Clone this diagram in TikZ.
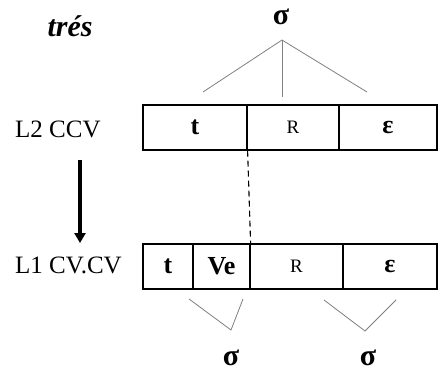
\documentclass[tikz,border=0pt]{standalone}
\usepackage{fontspec}
\setmainfont{Liberation Serif}
\usetikzlibrary{arrows.meta}
\begin{document}
\begin{tikzpicture}[x=1pt,y=-1pt,
  cell/.style={draw, line width=1.2pt, minimum height=45pt, inner sep=0pt, anchor=center},
  seg/.style={font=\fontsize{26}{28}\selectfont\bfseries},
  small/.style={font=\fontsize{19}{21}\selectfont},
  lab/.style={font=\fontsize{25}{28}\selectfont, anchor=west, inner sep=0pt},
  sig/.style={font=\fontsize{30}{32}\selectfont\bfseries, inner sep=0pt},
  branch/.style={draw=gray, line width=0.8pt}]
\useasboundingbox (0,0) rectangle (438,372);
\fill[white] (0,0) rectangle (438,372);
% top row
\node[cell, minimum width=104pt, seg] (t2) at (195,127.5) {t};
\node[cell, minimum width=92pt, small] (r2) at (293,127.5) {\raisebox{-2pt}{R}};
\node[cell, minimum width=98pt, seg] (e2) at (388,127.5) {ε};
% bottom row
\node[cell, minimum width=50pt, seg] (t1) at (168,266.5) {t};
\node[cell, minimum width=57pt, seg] (v1) at (221.5,266.5) {Ve};
\node[cell, minimum width=93pt, small] (r1) at (296.5,266.5) {\raisebox{-2pt}{R}};
\node[cell, minimum width=94pt, seg] (e1) at (390,266.5) {ε};
% labels
\node[font=\fontsize{30}{32}\selectfont\bfseries\itshape, anchor=center] (tres) at (70,26) {trés};
\node[lab] (l2) at (15,129) {L2 CCV};
\node[lab] (l1) at (15,265) {L1 CV.CV};
% arrow
\coordinate (a1) at (80,160);
\coordinate (a2) at (80,243);
\draw[line width=4pt, -{Triangle[length=10pt,width=11pt]}] (a1) -- (a2);
% dashed
\draw[dash pattern=on 6pt off 4pt, line width=1.1pt] (t2.south east) -- (v1.north east);
% top sigma
\node[sig] (s0) at (281,17) {σ};
\coordinate (p0) at (282,40);
\coordinate (q1) at (203,92);
\coordinate (q2) at (282,97);
\coordinate (q3) at (367,92);
\draw[branch] (q1) -- (p0) -- (q3);
\draw[branch] (p0) -- (q2);
% bottom sigmas
\coordinate (b1a) at (189,299);
\coordinate (b1m) at (231,330);
\coordinate (b1b) at (243,299);
\coordinate (b2a) at (324,300);
\coordinate (b2m) at (365,331);
\coordinate (b2b) at (396,300);
\draw[branch] (b1a) -- (b1m) -- (b1b);
\draw[branch] (b2a) -- (b2m) -- (b2b);
\node[sig] (s1) at (231,358) {σ};
\node[sig] (s2) at (368,358) {σ};
\end{tikzpicture}
\end{document}
